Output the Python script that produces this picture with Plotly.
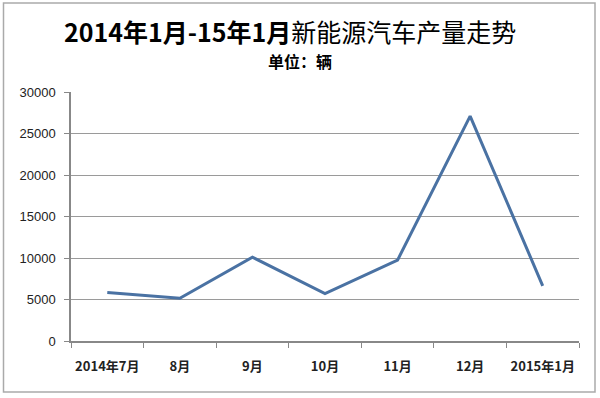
import plotly.graph_objects as go

months = ["2014年7月", "8月", "9月", "10月", "11月", "12月", "2015年1月"]
output = [5850, 5150, 10100, 5700, 9750, 27100, 6650]
y_ticks = [0, 5000, 10000, 15000, 20000, 25000, 30000]

title_bold = "2014年1月-15年1月"
title_rest = "新能源汽车产量走势"
subtitle_text = "单位：辆"

fig = go.Figure()
fig.add_trace(go.Scatter(
    x=months, y=output, mode="lines",
    line=dict(color="#4a72a3", width=3),
    showlegend=False, hoverinfo="x+y",
))

W, H = 600, 398
ml, mr, mt, mb = 71, 21, 92, 57
pw, ph = W - ml - mr, H - mt - mb

def px(x):
    return (x - ml) / pw

def py(y):
    return (H - mb - y) / ph

font_cjk = "Noto Sans CJK SC, Liberation Sans, sans-serif"

fig.update_layout(
    width=W, height=H, autosize=False,
    margin=dict(l=ml, r=mr, t=mt, b=mb, autoexpand=False),
    paper_bgcolor="white", plot_bgcolor="white",
    font=dict(family=font_cjk, color="#111"),
    xaxis=dict(
        type="category", tickson="boundaries", ticks="outside", ticklen=5,
        range=[-0.5, len(months) - 0.5], automargin=False, tickangle=0,
        tickvals=months, ticktext=["<b>" + m + "</b>" for m in months],
        tickcolor="#888", showline=True, linecolor="#888", linewidth=1.5,
        showgrid=False, tickfont=dict(size=13, family=font_cjk, color="#222"),
        ticklabelstandoff=13,
    ),
    yaxis=dict(
        range=[0, 30000], tickvals=y_ticks, tickformat="d", ticks="outside", ticklen=5,
        automargin=False,
        tickcolor="#888", showline=True, linecolor="#888", linewidth=1.5,
        showgrid=True, gridcolor="#9a9a9a", gridwidth=1, zeroline=False,
        tickfont=dict(size=13, family="Liberation Sans, sans-serif", color="#222"),
        ticklabelstandoff=6,
    ),
    annotations=[
        dict(text="<b>" + title_bold + "</b>" + title_rest, x=px(290), y=py(31),
             xref="paper", yref="paper",
             showarrow=False, font=dict(size=25, family=font_cjk, color="#000"),
             xanchor="center", yanchor="middle"),
        dict(text="<b>" + subtitle_text + "</b>", x=px(300), y=py(61), xref="paper", yref="paper",
             showarrow=False, font=dict(size=16, family=font_cjk, color="#000"),
             xanchor="center", yanchor="middle"),
    ],
    shapes=[
        dict(type="rect", xref="paper", yref="paper",
             x0=px(3.5), x1=px(595), y0=py(392), y1=py(3),
             line=dict(color="#aaa", width=1.5), fillcolor="rgba(0,0,0,0)", layer="below"),
    ],
)

fig.write_html("out.html", config={"displayModeBar": False},
               post_script="document.body.style.margin='0';")
